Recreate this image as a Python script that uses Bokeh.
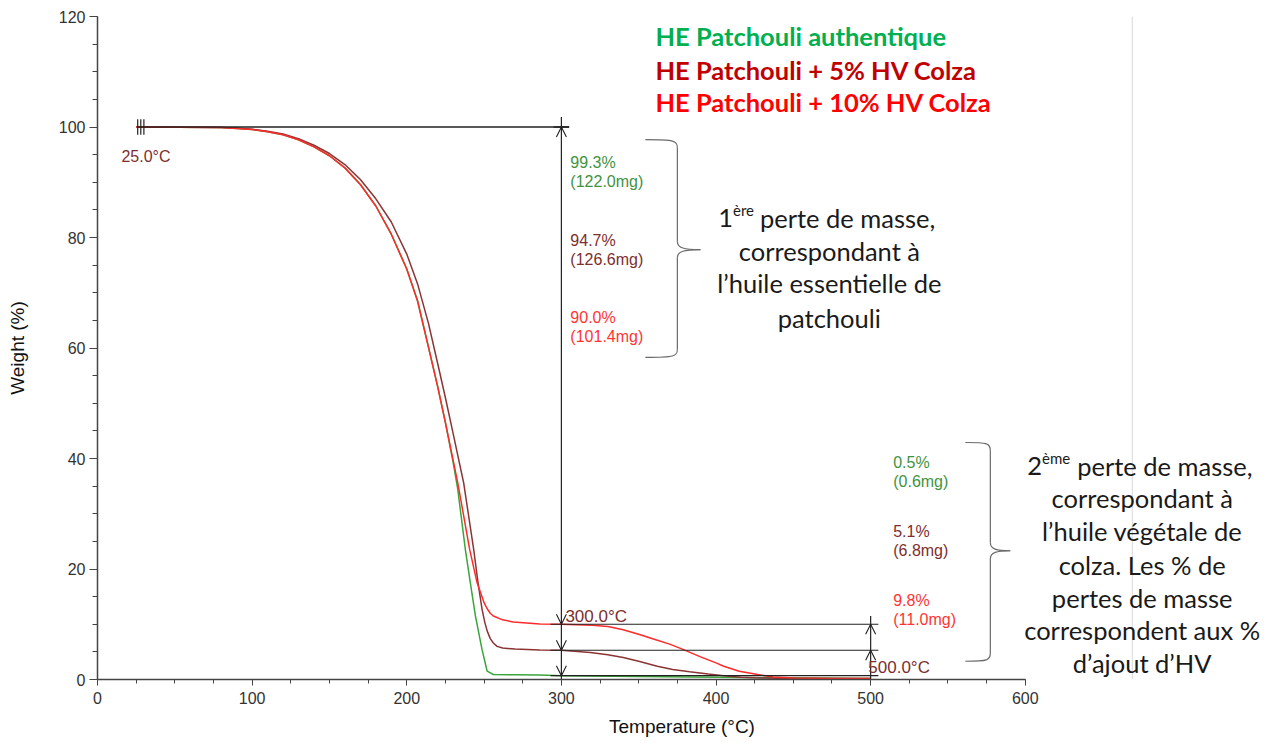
from bokeh.plotting import figure
from bokeh.models import Range1d, Label, Arrow, OpenHead, Span, FixedTicker
from bokeh.embed import file_html
from bokeh.resources import INLINE

# ---------------- data ----------------
temp_auth = [25, 80, 90, 100, 110, 120, 130, 140, 150, 160, 170, 180, 190, 200, 207, 214, 220, 225,
             230, 233, 237.9, 241, 244.4, 248.7, 252, 256, 270, 286, 300, 350, 400, 450, 500]
weight_auth = [100.0, 99.9, 99.75, 99.55, 99.15, 98.6, 97.7, 96.4, 94.8, 92.6, 89.6, 85.7, 80.6, 74.3, 68.5, 60.2, 53.0, 46.5,
               39.3, 34.4, 23.5, 17.7, 11.5, 5.4, 1.5, 0.9, 0.85, 0.8, 0.7, 0.55, 0.4, 0.3, 0.2]

temp_5 = [25, 80, 90, 100, 110, 120, 130, 140, 150, 160, 170, 180, 190, 200, 207, 214, 220, 225, 230,
          236.8, 243.3, 246.1, 248.7, 250.5, 252, 254, 256, 258.4, 262, 270, 286, 300, 318.7, 330, 340, 350,
          362, 372, 383, 395, 405, 416, 425, 450, 500]
weight_5 = [100.0, 99.9, 99.8, 99.6, 99.25, 98.75, 97.9, 96.7, 95.2, 93.2, 90.5, 87.0, 82.8, 77.0, 71.6, 64.5, 57.2, 51.0, 44.5,
            35.6, 23.5, 17.5, 12.7, 10.3, 8.8, 7.4, 6.6, 6.0, 5.7, 5.5, 5.35, 5.3, 4.9, 4.5, 4.0, 3.3,
            2.4, 1.8, 1.4, 1.0, 0.7, 0.4, 0.3, 0.2, 0.2]

temp_10 = [25, 80, 90, 100, 110, 120, 130, 140, 150, 160, 170, 180, 190, 200, 207, 214, 220, 225,
           233, 240.7, 245.5, 250, 252, 254, 256, 262, 269, 286, 300, 310, 320, 330, 340, 351, 360, 370,
           379, 390, 400, 405, 415, 427, 437, 450, 475, 500]
weight_10 = [100.0, 99.9, 99.75, 99.55, 99.15, 98.6, 97.7, 96.4, 94.8, 92.6, 89.6, 85.7, 80.6, 74.3, 68.5, 60.2, 53.0, 46.5,
             35.6, 23.5, 17.5, 13.9, 12.8, 12.0, 11.5, 10.8, 10.4, 10.05, 10.0, 9.9, 9.8, 9.6, 9.0, 8.1, 7.3, 6.4,
             5.4, 4.1, 3.0, 2.4, 1.5, 0.9, 0.45, 0.25, 0.2, 0.2]

series_names = ["HE Patchouli authentique", "HE Patchouli + 5% HV Colza", "HE Patchouli + 10% HV Colza"]
loss1_pct = [99.3, 94.7, 90.0]
loss1_mg = [122.0, 126.6, 101.4]
loss2_pct = [0.5, 5.1, 9.8]
loss2_mg = [0.6, 6.8, 11.0]
residue_300 = [0.7, 5.3, 10.0]
step_temps = [25.0, 300.0, 500.0]

x_ticks = [0, 100, 200, 300, 400, 500, 600]
y_ticks = [0, 20, 40, 60, 80, 100, 120]

# ---------------- styles ----------------
curve_colors = ["#3aa53a", "#8b3434", "#ff2a2a"]
text_colors = ["#3f933f", "#7d2e2e", "#ff3535"]
legend_colors = ["#00b050", "#c00000", "#ff0000"]
AX = "#444444"
FONT = "Liberation Sans"
CAL = "Lato"

p = figure(width=1266, height=739, x_range=Range1d(0, 756), y_range=Range1d(0, 120),
           output_backend="svg", toolbar_location=None,
           min_border_left=97, min_border_right=0, min_border_top=16, min_border_bottom=60)
p.outline_line_color = None
p.grid.visible = False
p.background_fill_color = "white"

for ax in (p.xaxis[0], p.yaxis[0]):
    ax.axis_line_color = AX
    ax.axis_line_width = 1.5
    ax.major_tick_line_color = AX
    ax.minor_tick_line_color = AX
    ax.major_tick_in = 0
    ax.minor_tick_in = 0
    ax.major_label_text_font = FONT
    ax.major_label_text_font_size = "16px"
    ax.major_label_text_color = "#333333"
    ax.axis_label_text_font = FONT
    ax.axis_label_text_font_size = "19px"
    ax.axis_label_text_font_style = "normal"
    ax.axis_label_text_color = "#111111"

p.xaxis.bounds = (0, 600)
p.xaxis.ticker = FixedTicker(ticks=x_ticks, minor_ticks=list(range(0, 601, 25)))
p.xaxis.major_tick_out = 6
p.xaxis.minor_tick_out = 4
p.xaxis.major_label_standoff = 6
p.xaxis.axis_label = "Temperature (°C)"
p.xaxis.axis_label_standoff = 9

p.yaxis.bounds = (0, 120)
p.yaxis.ticker = FixedTicker(ticks=y_ticks, minor_ticks=list(range(0, 121, 5)))
p.yaxis.major_tick_out = 8
p.yaxis.minor_tick_out = 5
p.yaxis.major_label_standoff = 4
p.yaxis.axis_label = "Weight (%)"
p.yaxis.axis_label_standoff = 28

# slide edge line
p.add_layout(Span(location=669.2, dimension="height", line_color="#d8d8d8", line_width=1))

# ---------------- curves ----------------
p.line(temp_auth, weight_auth, line_color=curve_colors[0], line_width=1.5)
p.line(temp_5, weight_5, line_color=curve_colors[1], line_width=1.5)
p.line(temp_10, weight_10, line_color=curve_colors[2], line_width=1.5)

# ---------------- step annotations ----------------
K = "#222222"
t0, t1, t2 = step_temps
p.segment(x0=[t0 + 1], y0=[100], x1=[t1 + 5], y1=[100], line_color=K, line_width=1.3)
for dx in (1, 3, 5):
    p.segment(x0=[t0 + dx], y0=[98.6], x1=[t0 + dx], y1=[101.4], line_color=K, line_width=1.2)
p.segment(x0=[t1 - 5], y0=[100], x1=[t1 + 5], y1=[100], line_color=K, line_width=1.3)
p.segment(x0=[t1], y0=[0], x1=[t1], y1=[101.8], line_color=K, line_width=1.2)
p.segment(x0=[t2], y0=[0], x1=[t2], y1=[11.5], line_color=K, line_width=1.2)
p.segment(x0=[t1 - 7] * 3, y0=residue_300, x1=[t2 + 5] * 3, y1=residue_300, line_color=K, line_width=1.1)

p.add_layout(Arrow(x_start=t1, y_start=97, x_end=t1, y_end=100, line_alpha=0,
                   end=OpenHead(size=10, line_color=K, line_width=1.1)))
for r in residue_300:
    p.add_layout(Arrow(x_start=t1, y_start=r + 3, x_end=t1, y_end=r, line_alpha=0,
                       end=OpenHead(size=10, line_color=K, line_width=1.1)))
for r in residue_300[1:]:
    p.add_layout(Arrow(x_start=t2, y_start=r - 3, x_end=t2, y_end=r, line_alpha=0,
                       end=OpenHead(size=10, line_color=K, line_width=1.1)))

def lab(x, y, text, color, size="16px", font=FONT, align="left", style="normal", baseline="middle"):
    p.add_layout(Label(x=x, y=y, text=text, text_color=color, text_font_size=size,
                       text_font=font, text_align=align, text_baseline=baseline,
                       text_font_style=style))

lab(15.5, 94.7, f"{step_temps[0]:.1f}°C", text_colors[1])
lab(302.6, 11.4, f"{step_temps[1]:.1f}°C", text_colors[1], size="17px")
lab(498.5, 2.2, f"{step_temps[2]:.1f}°C", text_colors[1], size="17px")

y1_pct = [93.6, 79.5, 65.5]
y2_pct = [39.3, 26.8, 14.3]
for i in range(3):
    lab(305.8, y1_pct[i], f"{loss1_pct[i]:.1f}%", text_colors[i])
    lab(305.8, y1_pct[i] - 3.5, f"({loss1_mg[i]:.1f}mg)", text_colors[i])
    lab(514.6, y2_pct[i], f"{loss2_pct[i]:.1f}%", text_colors[i])
    lab(514.6, y2_pct[i] - 3.5, f"({loss2_mg[i]:.1f}mg)", text_colors[i])

for i, yy in enumerate([116.4, 110.4, 104.6]):
    lab(360.8, yy, series_names[i], legend_colors[i], size="25.5px", font=CAL, style="bold")

# braces
BR = "#6a6a6a"
def brace(xl, xv, xt, yt, ym, yb):
    r = (yt - yb) * 0.025
    h = (xv - xl) * 0.3
    p.bezier(x0=[xl], y0=[yt], x1=[xv], y1=[yt - r * 1.5], cx0=[xv - h * 0.3], cy0=[yt],
             cx1=[xv], cy1=[yt - r * 0.2], line_color=BR, line_width=1.2)
    p.segment(x0=[xv], y0=[yt - r * 1.5], x1=[xv], y1=[ym + r * 1.5], line_color=BR, line_width=1.2)
    p.bezier(x0=[xv], y0=[ym + r * 1.5], x1=[xt], y1=[ym], cx0=[xv], cy0=[ym + r * 0.3],
             cx1=[xv + (xt - xv) * 0.3], cy1=[ym], line_color=BR, line_width=1.2)
    p.bezier(x0=[xt], y0=[ym], x1=[xv], y1=[ym - r * 1.5], cx0=[xv + (xt - xv) * 0.3], cy0=[ym],
             cx1=[xv], cy1=[ym - r * 0.3], line_color=BR, line_width=1.2)
    p.segment(x0=[xv], y0=[ym - r * 1.5], x1=[xv], y1=[yb + r * 1.5], line_color=BR, line_width=1.2)
    p.bezier(x0=[xv], y0=[yb + r * 1.5], x1=[xl], y1=[yb], cx0=[xv], cy0=[yb + r * 0.2],
             cx1=[xv - h * 0.3], cy1=[yb], line_color=BR, line_width=1.2)

brace(354.3, 375.0, 389.9, 97.7, 77.8, 58.3)
brace(561.2, 577.4, 590.3, 42.9, 23.3, 3.3)

TXT = "#1a1a1a"
TS = "25.5px"
SUP = "15px"
lab(401.5, 83.6, "1", TXT, size=TS, font=CAL)
lab(411.0, 85.0, "ère", TXT, size=SUP, font=CAL)
lab(428.4, 83.6, "perte de masse,", TXT, size=TS, font=CAL)
for txt, yy in [("correspondant à", 77.6), ("l’huile essentielle de", 71.7), ("patchouli", 65.5)]:
    lab(473.3, yy, txt, TXT, size=TS, font=CAL, align="center")
lab(601.3, 38.7, "2", TXT, size=TS, font=CAL)
lab(610.8, 40.1, "ème", TXT, size=SUP, font=CAL)
lab(633.6, 38.7, "perte de masse,", TXT, size=TS, font=CAL)
for txt, yy in [("correspondant à", 32.8), ("l’huile végétale de", 26.8), ("colza. Les % de", 20.8),
                ("pertes de masse", 14.8), ("correspondent aux %", 8.9), ("d’ajout d’HV", 2.9)]:
    lab(675.6, yy, txt, TXT, size=TS, font=CAL, align="center")

open("out.html", "w").write(file_html(p, INLINE))
